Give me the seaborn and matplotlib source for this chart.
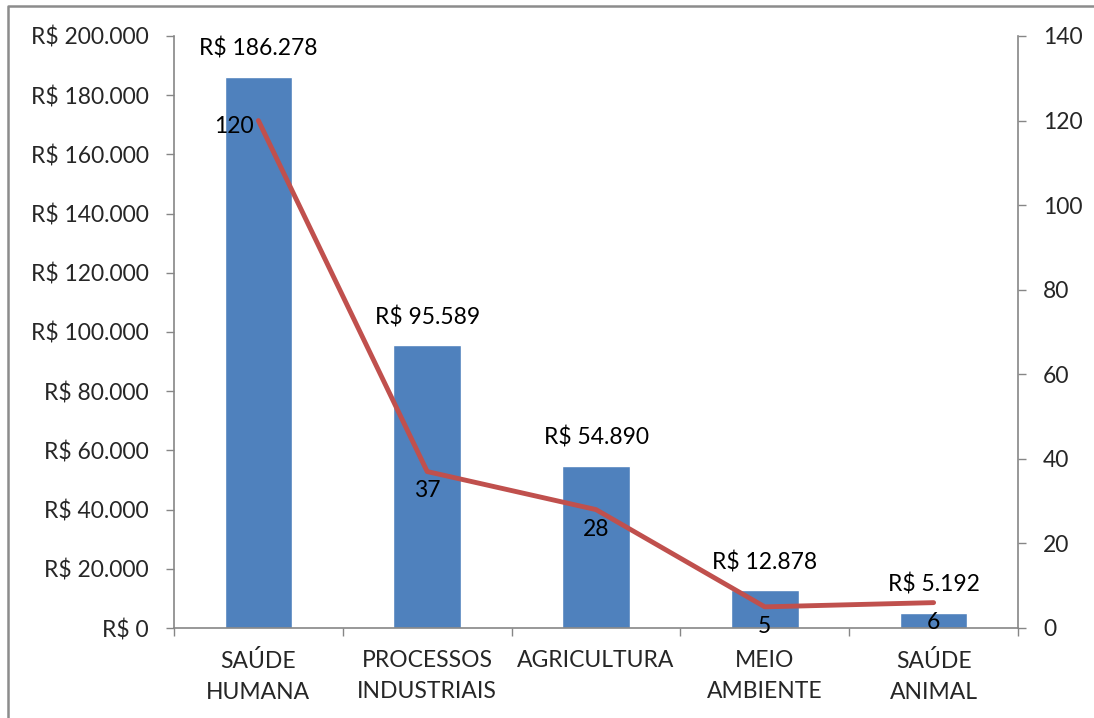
import matplotlib
matplotlib.use("Agg")
import matplotlib.pyplot as plt
from matplotlib.lines import Line2D
from matplotlib.ticker import FixedLocator, FuncFormatter
import numpy as np
import pandas as pd
import seaborn as sns

# Dados
categorias = ["SAÚDE\nHUMANA", "PROCESSOS\nINDUSTRIAIS", "AGRICULTURA", "MEIO\nAMBIENTE", "SAÚDE\nANIMAL"]
valores = [186278, 95589, 54890, 12878, 5192]
quantidades = [120, 37, 28, 5, 6]

COR_BARRA = "#4F81BD"
COR_LINHA = "#C0504D"
COR_EIXO = "#868686"

sns.set_theme(style="white")
plt.rcParams["font.family"] = ["Lato", "DejaVu Sans"]
FS = 16.5

W, H = 1094, 718
fig = plt.figure(figsize=(W / 100, H / 100), dpi=100)
ax = fig.add_axes([174 / W, 1 - 628 / H, (1018 - 174) / W, (628 - 36) / H])

df = pd.DataFrame({"categoria": categorias, "valor": valores, "qtd": quantidades})
sns.barplot(data=df, x="categoria", y="valor", color=COR_BARRA, width=0.4,
            saturation=1, ax=ax)

def fmt_real(v):
    return "R$ " + f"{int(v):,}".replace(",", ".")

ax.set_ylim(0, 200000)
ax.set_xlim(-0.5, len(categorias) - 0.5)
ax.yaxis.set_major_locator(FixedLocator(np.arange(0, 200001, 20000)))
ax.yaxis.set_major_formatter(FuncFormatter(lambda v, p: fmt_real(v)))
ax.set_xlabel("")
ax.set_ylabel("")

for i, v in enumerate(valores):
    ax.annotate(fmt_real(v), xy=(i, v), xytext=(0, 20), textcoords="offset points",
                ha="center", va="center", fontsize=FS, color="black")

ax2 = ax.twinx()
sns.lineplot(x=np.arange(len(quantidades)), y=quantidades, color=COR_LINHA,
             linewidth=3.5, ax=ax2)
ax2.set_ylim(0, 140)
ax2.set_xlim(-0.5, len(categorias) - 0.5)
ax2.yaxis.set_major_locator(FixedLocator(np.arange(0, 141, 20)))

for i, q in enumerate(quantidades):
    if i == 0:
        ax2.annotate(str(q), xy=(i, q), xytext=(-3, -4), textcoords="offset points",
                     ha="right", va="center", fontsize=FS, color="black")
    else:
        ax2.annotate(str(q), xy=(i, q), xytext=(0, -14), textcoords="offset points",
                     ha="center", va="center", fontsize=FS, color="black")

# Eixos e marcas
for a in (ax, ax2):
    a.spines["top"].set_visible(False)
    a.spines["left"].set_visible(a is ax)
    a.spines["right"].set_visible(a is ax2)
    a.spines["bottom"].set_visible(a is ax)
    for s in a.spines.values():
        s.set_color(COR_EIXO)
        s.set_linewidth(1.2)

ax.tick_params(axis="y", direction="out", length=6, width=1, color=COR_EIXO,
               labelsize=FS, pad=12, left=True)
ax2.tick_params(axis="y", direction="out", length=6, width=1, color=COR_EIXO,
                labelsize=FS, pad=12, right=True)
ax.xaxis.set_minor_locator(FixedLocator(np.arange(-0.5, len(categorias), 1.0)))
ax.tick_params(axis="x", which="minor", direction="out", length=6, width=1,
               color=COR_EIXO, bottom=True)
ax.tick_params(axis="x", which="major", length=0, labelsize=FS, pad=16)
for lbl in ax.get_xticklabels():
    lbl.set_linespacing(1.6)
ax2.tick_params(axis="x", which="both", length=0, labelbottom=False)
ax.grid(False)
ax2.grid(False)

# Moldura do gráfico
x0, y0 = 8 / W, 1 - 6 / H
fig.add_artist(Line2D([x0, x0, 1.0], [0.0, y0, y0], transform=fig.transFigure,
                      color="#8C8C8C", linewidth=1.8))

fig.savefig("out.png", dpi=100)
